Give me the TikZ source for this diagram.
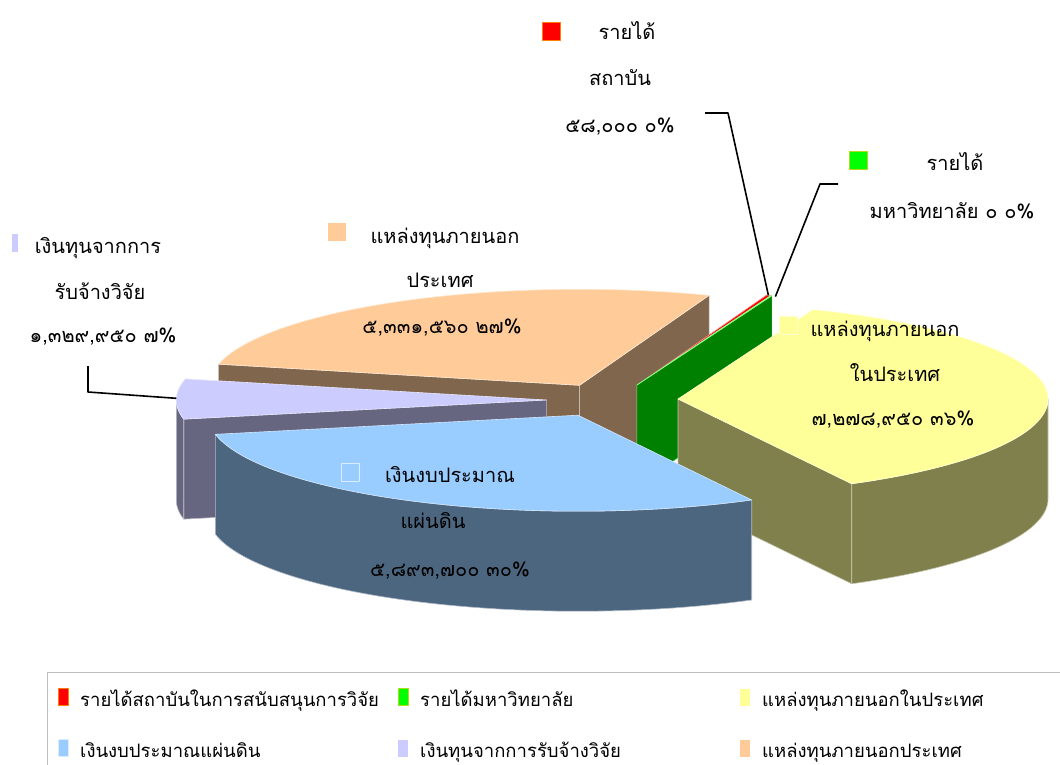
\documentclass[tikz,border=0pt]{standalone}
\usepackage{fontspec}
\newfontfamily\thaifont[Script=Thai]{Loma}
\definecolor{redtop}{HTML}{FF0000}
\definecolor{redside}{HTML}{800000}
\definecolor{greentop}{HTML}{00FF00}
\definecolor{greenside}{HTML}{008000}
\definecolor{yeltop}{HTML}{FFFF99}
\definecolor{yelside}{HTML}{80804D}
\definecolor{bluetop}{HTML}{99CCFF}
\definecolor{blueside}{HTML}{4D6680}
\definecolor{lavtop}{HTML}{CCCCFF}
\definecolor{lavside}{HTML}{666680}
\definecolor{orgtop}{HTML}{FFCC99}
\definecolor{orgside}{HTML}{80664D}
\definecolor{legframe}{HTML}{BFBFBF}

% pie geometry: radii of the top ellipse and slab thickness
\newcommand\PieRX{370}
\newcommand\PieRY{96}
\newcommand\PieD{100}
% top face of a slice: style, apex x, apex y, start angle, end angle
\newcommand\PieTop[5]{\filldraw[#1] (#2,#3) -- plot[domain=#4:#5,samples=90]
  ({#2+\PieRX*cos(\x)},{#3-\PieRY*sin(\x)}) -- cycle;}
% curved outer side of a slice
\newcommand\PieRim[5]{\filldraw[#1] plot[domain=#4:#5,samples=90]
  ({#2+\PieRX*cos(\x)},{#3-\PieRY*sin(\x)}) -- plot[domain=#5:#4,samples=90]
  ({#2+\PieRX*cos(\x)},{#3-\PieRY*sin(\x)+\PieD}) -- cycle;}
% flat radial wall of a slice at one angle
\newcommand\PieWall[4]{\filldraw[#1] (#2,#3) -- ({#2+\PieRX*cos(#4)},{#3-\PieRY*sin(#4)})
  -- ({#2+\PieRX*cos(#4)},{#3-\PieRY*sin(#4)+\PieD}) -- (#2,{#3+\PieD}) -- cycle;}

\begin{document}
\begin{tikzpicture}[x=1pt,y=-1pt,line join=round,
  face/.style={fill=#1, draw=#1!45!white, line width=0.6pt},
  leader/.style={line width=1.6pt, black},
  lbl/.style={font=\thaifont\fontsize{20}{24}\selectfont, anchor=base, inner sep=0pt},
  key/.style={minimum width=18pt, minimum height=18pt, inner sep=0pt},
  lgtext/.style={font=\thaifont\fontsize{18.5}{22}\selectfont, anchor=base west, inner sep=0pt},
  lgkey/.style={minimum width=10pt, minimum height=17pt, inner sep=0pt}]
\useasboundingbox (0,0) rectangle (1060,765);
\fill[white] (0,0) rectangle (1060,765);

% ---- pie slices, back to front ----
% outside funding sources, abroad
\PieWall{face=orgside}{579.5}{385.3}{167.3}
\PieWall{face=orgside}{579.5}{385.3}{69.5}
\PieTop{face=orgtop}{579.5}{385.3}{69.5}{167.3}
% institute income
\PieWall{face=redside}{637}{385}{68.8}
\PieTop{face=redtop}{637}{385}{68.8}{69.5}
% university income
\PieWall{fill=greenside, draw=greentop!60!white, line width=0.4pt}{637}{385}{68.6}
\PieTop{face=greentop}{637}{385}{68.6}{68.8}
% contract research
\PieWall{face=lavside}{546.3}{400}{191.5}
\PieRim{face=lavside}{546.3}{400}{180}{191.5}
\PieTop{face=lavtop}{546.3}{400}{167.3}{191.5}
% outside funding sources, domestic
\PieWall{face=yelside}{678}{399}{-62}
\PieRim{face=yelside}{678}{399}{-62}{0}
\PieTop{face=yeltop}{678}{399}{-62}{68.6}
% national budget
\PieRim{face=blueside}{578}{415.2}{191.5}{298}
\PieTop{face=bluetop}{578}{415.2}{191.5}{298}

% ---- data labels ----
\node[key, fill=redtop, draw=orange] (redkey) at (551,31) {};
\node[lbl] (redA) at (627,40) {รายได้};
\node[lbl] (redB) at (620,86) {สถาบัน};
\node[lbl] (redC) at (620,132) {๕๘,๐๐๐ ๐\%};

\node[key, fill=greentop, draw=yellow!70!green] (greenkey) at (858,160) {};
\node[lbl] (greenA) at (955,170) {รายได้};
\node[lbl] (greenB) at (952,218) {มหาวิทยาลัย ๐ ๐\%};

\node[key, minimum width=6pt, fill=lavtop] (lavkey) at (15,243) {};
\node[lbl] (lavA) at (98,253) {เงินทุนจากการ};
\node[lbl] (lavB) at (100,299) {รับจ้างวิจัย};
\node[lbl] (lavC) at (103,342) {๑,๓๒๙,๙๕๐ ๗\%};

\node[key, fill=orgtop] (orgkey) at (337,232) {};
\node[lbl] (orgA) at (445,243) {แหล่งทุนภายนอก};
\node[lbl] (orgB) at (440,287) {ประเทศ};
\node[lbl] (orgC) at (442,333) {๕,๓๓๑,๕๖๐ ๒๗\%};

\node[key, fill=yeltop, draw=yeltop!50!white] (yelkey) at (788,325) {};
\node[lbl] (yelA) at (885,336) {แหล่งทุนภายนอก};
\node[lbl] (yelB) at (895,381) {ในประเทศ};
\node[lbl] (yelC) at (893,425) {๗,๒๗๘,๙๕๐ ๓๖\%};

\node[key, fill=bluetop, draw=bluetop!35!white, line width=0.8pt] (bluekey) at (350,472) {};
\node[lbl] (blueA) at (450,482) {เงินงบประมาณ};
\node[lbl] (blueB) at (433,528) {แผ่นดิน};
\node[lbl] (blueC) at (450,576) {๕,๘๙๓,๗๐๐ ๓๐\%};

% ---- leader lines ----
\coordinate (redtip) at ({637+370*cos(69.2)},{385-96*sin(69.2)});
\coordinate (redbend) at (728,113);
\coordinate (redend) at (705,113);
\draw[leader] (redtip) -- (redbend) -- (redend);
\coordinate (greentip) at ({641+370*cos(68.7)},{386-96*sin(68.7)});
\coordinate (greenbend) at (820,184);
\coordinate (greenend) at (838,184);
\draw[leader] (greentip) -- (greenbend) -- (greenend);
\coordinate (lavtip) at ({546.3+370*cos(179)},{400-96*sin(179)});
\coordinate (lavbend) at (88,392);
\coordinate (lavend) at (88,366);
\draw[leader] (lavtip) -- (lavbend) -- (lavend);

% ---- legend ----
\draw[legframe, line width=1pt] (47,765) -- (47,672) -- (1060,672);
\node[lgkey, fill=redtop, draw=orange] (lk1) at (63,697) {};
\node[lgtext] (lt1) at (80,706) {รายได้สถาบันในการสนับสนุนการวิจัย};
\node[lgkey, fill=greentop, draw=yellow!70!green] (lk2) at (403,697) {};
\node[lgtext] (lt2) at (420,706) {รายได้มหาวิทยาลัย};
\node[lgkey, fill=yeltop] (lk3) at (745,697) {};
\node[lgtext] (lt3) at (762,706) {แหล่งทุนภายนอกในประเทศ};
\node[lgkey, fill=bluetop, draw=bluetop!35!white] (lk4) at (63,748) {};
\node[lgtext] (lt4) at (80,757) {เงินงบประมาณแผ่นดิน};
\node[lgkey, fill=lavtop] (lk5) at (403,748) {};
\node[lgtext] (lt5) at (420,757) {เงินทุนจากการรับจ้างวิจัย};
\node[lgkey, fill=orgtop] (lk6) at (745,748) {};
\node[lgtext] (lt6) at (762,757) {แหล่งทุนภายนอกประเทศ};
\end{tikzpicture}
\end{document}
